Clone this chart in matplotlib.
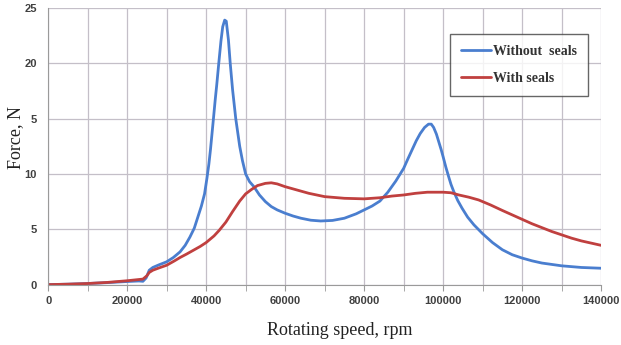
import numpy as np
import matplotlib
matplotlib.use("Agg")
import matplotlib.pyplot as plt

# rotating speed (rpm) and force (N)
speed_wo = [0, 5000, 10000, 15000, 20000, 23000, 24000, 24800, 25600, 26500, 28000,
            30000, 31700, 33400, 34700, 35900, 37000, 37900, 38800, 39600, 40200,
            40700, 41100, 41800, 42300, 42700, 43200, 43750, 44200, 44700, 45100,
            45650, 46100, 46700, 47500, 48500, 49200, 50000, 51000, 52100, 53500,
            55000, 56500, 58000, 60000, 62000, 64000, 66500, 69000, 72000, 75000,
            78000, 80000, 82000, 84000, 86000, 88000, 90000, 91000, 92100, 93200,
            94200, 95300, 96300, 97000, 97600, 98300, 98900, 99500, 100000, 100700,
            101400, 102000, 102700, 103700, 104800, 106200, 107800, 110000, 112500,
            115000, 117500, 120000, 122500, 125000, 130000, 135000, 140000]
force_wo = [0, 0.04, 0.1, 0.18, 0.28, 0.33, 0.3, 0.6, 1.3, 1.55, 1.78,
            2.06, 2.45, 2.96, 3.55, 4.3, 5.1, 6.1, 7.1, 8.2, 9.6,
            10.9, 12.2, 14.8, 16.7, 18.1, 20.0, 22.0, 23.3, 23.9, 23.8,
            22.1, 20.0, 17.6, 15.0, 12.5, 11.2, 10.0, 9.3, 8.85, 8.1,
            7.5, 7.05, 6.75, 6.45, 6.2, 6.0, 5.82, 5.75, 5.8, 6.0,
            6.4, 6.75, 7.1, 7.55, 8.35, 9.35, 10.5, 11.3, 12.15, 13.0,
            13.65, 14.2, 14.5, 14.5, 14.2, 13.6, 12.9, 12.2, 11.55, 10.6,
            9.75, 9.05, 8.4, 7.6, 6.9, 6.1, 5.4, 4.6, 3.8,
            3.15, 2.7, 2.4, 2.15, 1.95, 1.7, 1.55, 1.48]

speed_w = [0, 5000, 10000, 15000, 20000, 24000, 25000, 25600, 26500, 28000, 30000,
           32000, 33400, 35000, 37000, 38500, 40000, 42000, 43300, 45000, 46700, 48500,
           50000, 51500, 53000, 55000, 56500, 58000, 60000, 63000, 66000, 70000,
           75000, 80000, 84000, 87000, 90000, 93000, 96000, 100000, 102000, 104000,
           106500, 109000, 112000, 115000, 117500, 120000, 122500, 125000, 127500,
           130000, 132500, 135000, 137500, 140000]
force_w = [0, 0.04, 0.1, 0.2, 0.35, 0.5, 0.8, 1.1, 1.3, 1.5, 1.75,
           2.15, 2.45, 2.75, 3.15, 3.45, 3.8, 4.4, 4.9, 5.65, 6.6, 7.55,
           8.2, 8.6, 8.95, 9.15, 9.2, 9.1, 8.85, 8.55, 8.25, 7.95,
           7.8, 7.75, 7.85, 8.0, 8.1, 8.25, 8.35, 8.35, 8.3, 8.1,
           7.9, 7.65, 7.2, 6.7, 6.3, 5.9, 5.5, 5.15, 4.8,
           4.5, 4.2, 3.95, 3.75, 3.55]

yticks = [0, 5, 10, 15, 20, 25]
ytick_labels = ["0", "5", "10", "5", "20", "25"]
xticks = [0, 20000, 40000, 60000, 80000, 100000, 120000, 140000]

fig = plt.figure(figsize=(6.21, 3.45), dpi=100)
ax = fig.add_axes([0.0775, 0.175, 0.8905, 0.802])

ax.plot(speed_wo, force_wo, color="#4a7ecf", lw=2.0, label="Without  seals",
        solid_joinstyle="round", solid_capstyle="round")
ax.plot(speed_w, force_w, color="#c0403f", lw=2.0, label="With seals",
        solid_joinstyle="round", solid_capstyle="round")

ax.set_xlim(0, 140000)
ax.set_ylim(0, 25)
ax.set_xticks(xticks)
ax.set_xticks(np.arange(0, 140001, 10000), minor=True)
ax.set_yticks(yticks)
ax.set_yticklabels(ytick_labels)
ax.grid(True, which="both", color="#c4bfc8", lw=0.9)
ax.set_axisbelow(True)

for s in ["top", "right"]:
    ax.spines[s].set_visible(False)
for s in ["left", "bottom"]:
    ax.spines[s].set_color("#9a9a9a")

ax.tick_params(axis="x", which="both", length=4, color="#9a9a9a", labelsize=8, labelcolor="#404040", pad=4)
ax.tick_params(axis="y", length=0, labelsize=8, labelcolor="#404040", pad=8)
for lab in ax.get_xticklabels() + ax.get_yticklabels():
    lab.set_fontweight("bold")
    lab.set_family("Liberation Sans")

ax.set_xlabel("Rotating speed, rpm", family="Liberation Serif", fontsize=13, color="#222222")
ax.xaxis.set_label_coords(0.528, -0.135)
ax.set_ylabel("Force, N", family="Liberation Serif", fontsize=13, color="#222222")
ax.yaxis.set_label_coords(-0.043, 0.53)

leg = ax.legend(loc="upper right", bbox_to_anchor=(0.976, 0.906),
                prop={"family": "Liberation Serif", "weight": "bold", "size": 10},
                frameon=True, fancybox=False, handlelength=2.2, handletextpad=0.1, labelspacing=1.0,
                borderpad=0.8, borderaxespad=0)
leg.get_frame().set_edgecolor("#404040")
leg.get_frame().set_linewidth(1.0)
for t in leg.get_texts():
    t.set_color("#333333")

fig.savefig("out.png", dpi=100)
